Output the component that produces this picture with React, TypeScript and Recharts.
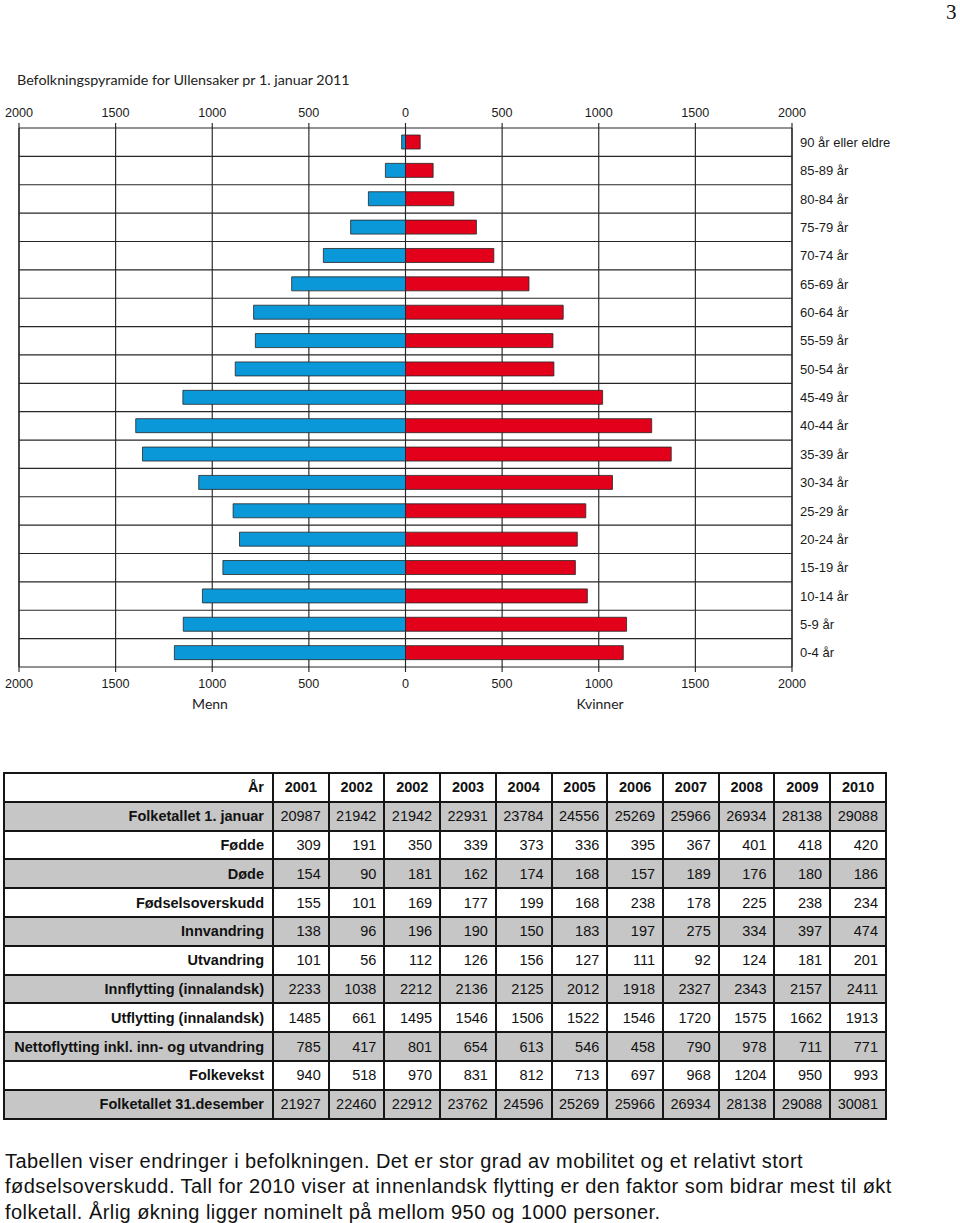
import React from 'react';
import { BarChart, Bar, XAxis, YAxis, CartesianGrid, ReferenceLine } from 'recharts';

// ---------- Pyramid data ----------
const ageGroups = [
  '90 år eller eldre', '85-89 år', '80-84 år', '75-79 år', '70-74 år', '65-69 år',
  '60-64 år', '55-59 år', '50-54 år', '45-49 år', '40-44 år', '35-39 år',
  '30-34 år', '25-29 år', '20-24 år', '15-19 år', '10-14 år', '5-9 år', '0-4 år',
];
const menCounts = [20, 104, 192, 284, 425, 589, 786, 777, 881, 1152, 1396, 1361, 1070, 892, 859, 945, 1051, 1150, 1196];
const womenCounts = [76, 143, 250, 367, 457, 639, 816, 763, 768, 1020, 1274, 1375, 1071, 933, 889, 879, 941, 1144, 1127];
const valueTicks = [-2000, -1500, -1000, -500, 0, 500, 1000, 1500, 2000];

// ---------- Table data ----------
const tableYears = ['2001', '2002', '2002', '2003', '2004', '2005', '2006', '2007', '2008', '2009', '2010'];
const folketallet1Jan = [20987, 21942, 21942, 22931, 23784, 24556, 25269, 25966, 26934, 28138, 29088];
const fodde = [309, 191, 350, 339, 373, 336, 395, 367, 401, 418, 420];
const dode = [154, 90, 181, 162, 174, 168, 157, 189, 176, 180, 186];
const fodselsoverskudd = [155, 101, 169, 177, 199, 168, 238, 178, 225, 238, 234];
const innvandring = [138, 96, 196, 190, 150, 183, 197, 275, 334, 397, 474];
const utvandring = [101, 56, 112, 126, 156, 127, 111, 92, 124, 181, 201];
const innflytting = [2233, 1038, 2212, 2136, 2125, 2012, 1918, 2327, 2343, 2157, 2411];
const utflytting = [1485, 661, 1495, 1546, 1506, 1522, 1546, 1720, 1575, 1662, 1913];
const nettoflytting = [785, 417, 801, 654, 613, 546, 458, 790, 978, 711, 771];
const folkevekst = [940, 518, 970, 831, 812, 713, 697, 968, 1204, 950, 993];
const folketallet31Des = [21927, 22460, 22912, 23762, 24596, 25269, 25966, 26934, 28138, 29088, 30081];

const tableRows: [string, number[]][] = [
  ['Folketallet 1. januar', folketallet1Jan],
  ['Fødde', fodde],
  ['Døde', dode],
  ['Fødselsoverskudd', fodselsoverskudd],
  ['Innvandring', innvandring],
  ['Utvandring', utvandring],
  ['Innflytting (innalandsk)', innflytting],
  ['Utflytting (innalandsk)', utflytting],
  ['Nettoflytting inkl. inn- og utvandring', nettoflytting],
  ['Folkevekst', folkevekst],
  ['Folketallet 31.desember', folketallet31Des],
];

const pyramidData = ageGroups.map((group, i) => ({
  group,
  men: -menCounts[i],
  women: womenCounts[i],
}));

const SANS = '"Liberation Sans", Arial, Helvetica, sans-serif';
const TITLE_FONT = 'Lato, "Open Sans", sans-serif';
const GRID = '#262626';
const GRID_W = 1.15;

const css = `
.pyr .recharts-xAxis .recharts-cartesian-axis-tick-value { letter-spacing: 0.5px; }
.pyr .recharts-yAxis .recharts-cartesian-axis-tick-value { letter-spacing: 0.5px; }
.tbl td { border: 1px solid #151515; height: 26.8px; padding: 0 8px; font-size: 14.5px; color: #111; white-space: nowrap; }
`;

function Pyramid() {
  return (
    <BarChart
      width={960}
      height={720}
      data={pyramidData}
      layout="vertical"
      stackOffset="sign"
      barSize={14}
      margin={{ top: 98, right: 24, bottom: 23, left: 19 }}
    >
      <CartesianGrid stroke={GRID} strokeWidth={GRID_W} xAxisId="bottom" yAxisId="cat" horizontal={false} />
      <XAxis
        xAxisId="top"
        orientation="top"
        type="number"
        domain={[-2000, 2000]}
        allowDataOverflow
        ticks={valueTicks}
        interval={0}
        height={30}
        axisLine={false}
        tickSize={5}
        tickMargin={6}
        tickLine={{ stroke: GRID, strokeWidth: GRID_W }}
        tickFormatter={(v: number) => String(Math.abs(v))}
        tick={{ fontSize: 12.6, fill: '#1a1a1a', fontFamily: SANS }}
      />
      <XAxis
        xAxisId="bottom"
        orientation="bottom"
        type="number"
        domain={[-2000, 2000]}
        allowDataOverflow
        ticks={valueTicks}
        interval={0}
        height={30}
        axisLine={false}
        tickSize={5}
        tickMargin={7}
        tickLine={{ stroke: GRID, strokeWidth: GRID_W }}
        tickFormatter={(v: number) => String(Math.abs(v))}
        tick={{ fontSize: 12.6, fill: '#1a1a1a', fontFamily: SANS }}
      />
      <YAxis
        yAxisId="cat"
        orientation="right"
        type="category"
        dataKey="group"
        width={144}
        axisLine={false}
        tickLine={false}
        tickSize={0}
        tickMargin={8}
        interval={0}
        tick={{ fontSize: 13, fill: '#1a1a1a', fontFamily: SANS, textAnchor: 'start' }}
      />
      {ageGroups.map((g) => (
        <ReferenceLine
          key={'row-' + g}
          y={g}
          position="start"
          xAxisId="bottom"
          yAxisId="cat"
          stroke={GRID}
          strokeWidth={GRID_W}
          ifOverflow="visible"
        />
      ))}
      <ReferenceLine
        y={ageGroups[ageGroups.length - 1]}
        position="end"
        xAxisId="bottom"
        yAxisId="cat"
        stroke={GRID}
        strokeWidth={GRID_W}
        ifOverflow="visible"
      />
      <ReferenceLine
        x={valueTicks[valueTicks.length - 1]}
        xAxisId="bottom"
        yAxisId="cat"
        stroke={GRID}
        strokeWidth={GRID_W}
        ifOverflow="visible"
      />
      <ReferenceLine
        x={valueTicks[0]}
        xAxisId="bottom"
        yAxisId="cat"
        stroke={GRID}
        strokeWidth={GRID_W}
        ifOverflow="visible"
      />
      <Bar
        dataKey="men"
        stackId="p"
        xAxisId="bottom"
        yAxisId="cat"
        fill="#0a98d8"
        stroke="#262626"
        strokeWidth={0.8}
        isAnimationActive={false}
      />
      <Bar
        dataKey="women"
        stackId="p"
        xAxisId="bottom"
        yAxisId="cat"
        fill="#e2001a"
        stroke="#262626"
        strokeWidth={0.8}
        isAnimationActive={false}
      />
    </BarChart>
  );
}

export default function App() {
  return (
    <div style={{ position: 'absolute', left: 0, top: 0, width: 960, height: 1223, background: '#fff', overflow: 'hidden' }}>
      <style>{css}</style>
      <div style={{ position: 'absolute', left: 946, top: 2, fontFamily: '"Liberation Serif", "Times New Roman", serif', fontSize: 21, lineHeight: '21px', color: '#111' }}>3</div>
      <div style={{ position: 'absolute', left: 17, top: 70, fontFamily: TITLE_FONT, fontSize: 14.3, lineHeight: '20px', color: '#222', whiteSpace: 'nowrap' }}>
        Befolkningspyramide for Ullensaker pr 1. januar 2011
      </div>
      <div className="pyr" style={{ position: 'absolute', left: 0, top: 0 }}>
        <Pyramid />
      </div>
      <div style={{ position: 'absolute', left: 160, width: 100, top: 694, textAlign: 'center', fontFamily: TITLE_FONT, fontSize: 14, lineHeight: '20px', color: '#222' }}>Menn</div>
      <div style={{ position: 'absolute', left: 550, width: 100, top: 694, textAlign: 'center', fontFamily: TITLE_FONT, fontSize: 14, lineHeight: '20px', color: '#222' }}>Kvinner</div>

      <table
        className="tbl"
        style={{
          position: 'absolute', left: 3, top: 772, width: 884, tableLayout: 'fixed',
          borderCollapse: 'separate', borderSpacing: 0, border: '1px solid #151515',
          fontFamily: SANS,
        }}
      >
        <colgroup>
          <col style={{ width: 269 }} />
          {tableYears.map((_, i) => <col key={i} />)}
        </colgroup>
        <tbody>
          <tr style={{ background: '#fff' }}>
            <td style={{ textAlign: 'right', fontWeight: 'bold' }}>År</td>
            {tableYears.map((y, i) => (
              <td key={i} style={{ textAlign: 'center', fontWeight: 'bold', padding: 0 }}>{y}</td>
            ))}
          </tr>
          {tableRows.map(([label, values], r) => (
            <tr key={label} style={{ background: r % 2 === 0 ? '#c6c6c6' : '#fff' }}>
              <td style={{ textAlign: 'right', fontWeight: 'bold' }}>{label}</td>
              {values.map((v, i) => (
                <td key={i} style={{ textAlign: 'right', padding: '0 7px 0 0' }}>{v}</td>
              ))}
            </tr>
          ))}
        </tbody>
      </table>

      <div style={{ position: 'absolute', left: 5, top: 1148.6, fontFamily: SANS, fontSize: 20, letterSpacing: '0.45px', lineHeight: '25.5px', color: '#111', whiteSpace: 'nowrap' }}>
        Tabellen viser endringer i befolkningen. Det er stor grad av mobilitet og et relativt stort<br />
        fødselsoverskudd. Tall for 2010 viser at innenlandsk flytting er den faktor som bidrar mest til økt<br />
        folketall. Årlig økning ligger nominelt på mellom 950 og 1000 personer.
      </div>
    </div>
  );
}
